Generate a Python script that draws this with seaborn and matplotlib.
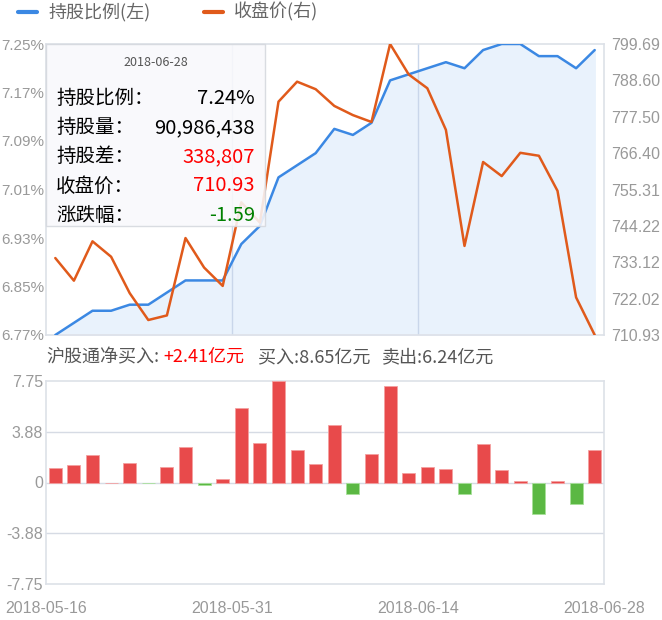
import numpy as np
import pandas as pd
import matplotlib
matplotlib.use("Agg")
import matplotlib.pyplot as plt
import matplotlib.patches as mpatches
import seaborn as sns

# data
hold_ratio = [6.77, 6.79, 6.81, 6.81, 6.82, 6.82, 6.84, 6.86, 6.86, 6.86,
              6.92, 6.95, 7.03, 7.05, 7.07, 7.11, 7.10, 7.12, 7.19, 7.20,
              7.21, 7.22, 7.21, 7.24, 7.25, 7.25, 7.23, 7.23, 7.21, 7.24]
close_price = [734.4, 727.5, 739.5, 734.8, 723.7, 715.5, 716.9, 740.5, 731.5, 725.9,
               751.4, 745.2, 782.1, 788.2, 785.9, 780.8, 778.0, 775.9, 799.69, 790.4,
               786.2, 773.5, 738.1, 763.7, 759.4, 766.5, 765.6, 754.9, 722.4, 710.93]
net_buy = [1.12, 1.37, 2.13, 0.0, 1.47, -0.05, 1.19, 2.69, -0.20, 0.23,
           5.72, 3.00, 7.75, 2.46, 1.45, 4.37, -0.84, 2.21, 7.37, 0.69,
           1.22, 1.02, -0.84, 2.92, 0.97, 0.08, -2.39, 0.08, -1.65, 2.48]
date_labels = ["2018-05-16", "2018-05-31", "2018-06-14", "2018-06-28"]
left_ticks = [6.77, 6.85, 6.93, 7.01, 7.09, 7.17, 7.25]
right_ticks = [710.93, 722.02, 733.12, 744.22, 755.31, 766.40, 777.50, 788.60, 799.69]
bar_ticks = [-7.75, -3.88, 0, 3.88, 7.75]

sns.set_style("white")
plt.rcParams['font.family'] = ['Noto Sans CJK SC', 'DejaVu Sans']

W, H = 662, 620
fig = plt.figure(figsize=(W / 100, H / 100), dpi=100)

def box(l, t, r, b):
    return [l / W, 1 - b / H, (r - l) / W, (b - t) / H]

BLUE = "#3b88e3"
ORANGE = "#e05a1b"
GREY = "#999999"
EDGE = "#dde1e8"
NUMFONT = "Liberation Sans"

n = len(hold_ratio)
idx = np.arange(n)
df = pd.DataFrame({"i": idx, "ratio": hold_ratio, "price": close_price, "net": net_buy})

def num_ticks(a, axis="y", size=11.5):
    labels = a.get_yticklabels() if axis == "y" else a.get_xticklabels()
    for t in labels:
        t.set_fontfamily(NUMFONT)
        t.set_fontsize(size)
        t.set_color(GREY)

# ---- top chart
ax = fig.add_axes(box(46, 44, 604, 335))
ax.fill_between(idx, hold_ratio, 6.77, color="#e9f2fc", zorder=1)
sns.lineplot(data=df, x="i", y="ratio", ax=ax, color=BLUE, lw=1.8, zorder=3)
ax.set_xlim(-0.5, n - 0.5)
ax.set_ylim(6.77, 7.25)
for xv in [9.5, 19.5]:
    ax.axvline(xv, color="#c9d6ea", lw=1, zorder=2)
ax.set_yticks(left_ticks)
ax.set_yticklabels([f"{v:.2f}%" for v in left_ticks])
ax.set_xticks([])
ax.set_xlabel("")
ax.set_ylabel("")
ax.tick_params(axis="y", length=0, pad=1.5)
num_ticks(ax, size=11)
for s in ax.spines.values():
    s.set_color(EDGE)
    s.set_linewidth(1.2)

ax2 = ax.twinx()
sns.lineplot(data=df, x="i", y="price", ax=ax2, color=ORANGE, lw=1.8)
ax2.set_ylim(710.93, 799.69)
ax2.set_xlim(-0.5, n - 0.5)
ax2.set_yticks(right_ticks)
ax2.set_yticklabels([f"{v:.2f}" for v in right_ticks])
ax2.set_ylabel("")
ax2.tick_params(axis="y", length=0, pad=5)
num_ticks(ax2)
for s in ax2.spines.values():
    s.set_visible(False)

# legend
fig.add_artist(plt.Line2D([18 / W, 37 / W], [1 - 12 / H, 1 - 12 / H], color=BLUE, lw=3))
fig.text(48 / W, 1 - 12 / H, "持股比例(左)", fontsize=13, color="#666666", va="center")
fig.add_artist(plt.Line2D([204 / W, 223 / W], [1 - 12 / H, 1 - 12 / H], color=ORANGE, lw=3))
fig.text(234 / W, 1 - 12 / H, "收盘价(右)", fontsize=13, color="#666666", va="center")

# tooltip
tip = mpatches.Rectangle((46 / W, 1 - 226 / H), 219 / W, 182 / H, transform=fig.transFigure,
                         facecolor="#f9f9fc", alpha=0.88, edgecolor="#d5d8de", lw=1, zorder=5)
fig.add_artist(tip)
fig.text(156 / W, 1 - 63 / H, "2018-06-28", fontsize=9, color="#555555",
         ha="center", va="center", zorder=6)
rows = [("持股比例：", "7.24%", "black"),
        ("持股量：", "90,986,438", "black"),
        ("持股差：", "338,807", "red"),
        ("收盘价：", "710.93", "red"),
        ("涨跌幅：", "-1.59", "green")]
for k, (lab, val, col) in enumerate(rows):
    y = 1 - (98 + 29.3 * k) / H
    fig.text(56 / W, y, lab, fontsize=14, color="black", va="center", zorder=6)
    fig.text(255 / W, y, val, fontsize=14.5, color=col, va="center", ha="right", zorder=6)

# ---- bottom chart
fig.text(46 / W, 1 - 357 / H, "沪股通净买入:", fontsize=13, color="#555555", va="center")
fig.text(163 / W, 1 - 357 / H, "+2.41亿元", fontsize=13, color="red", va="center")
fig.text(258 / W, 1 - 357 / H, "买入:8.65亿元", fontsize=13, color="#555555", va="center")
fig.text(382 / W, 1 - 357 / H, "卖出:6.24亿元", fontsize=13, color="#555555", va="center")

bx = fig.add_axes(box(46, 381, 604, 584))
df["sign"] = np.where(df["net"] >= 0, "up", "down")
sns.barplot(data=df, x="i", y="net", hue="sign", palette={"up": "#e84a4b", "down": "#5bb843"},
            dodge=False, legend=False, width=0.7, saturation=1, ax=bx,
            linewidth=0.6, zorder=3)
for p in bx.patches:
    p.set_edgecolor("#f4a0a0" if p.get_height() >= 0 else "#a8e09a")
bx.set_xlim(-0.5, n - 0.5)
bx.set_ylim(-7.75, 7.75)
bx.set_yticks(bar_ticks)
bx.set_yticklabels(["-7.75", "-3.88", "0", "3.88", "7.75"])
for yv in [-3.88, 0, 3.88]:
    bx.axhline(yv, color="#d6dbe4", lw=1, zorder=1)
bx.set_xticks([-0.5, 9.5, 19.5, 29.5])
bx.set_xticklabels(date_labels)
bx.set_xlabel("")
bx.set_ylabel("")
bx.tick_params(axis="y", length=0, pad=2)
bx.tick_params(axis="x", length=0, pad=12)
num_ticks(bx, "y")
num_ticks(bx, "x")
for s in bx.spines.values():
    s.set_color(EDGE)
    s.set_linewidth(1.2)

fig.savefig("out.png", dpi=100)
